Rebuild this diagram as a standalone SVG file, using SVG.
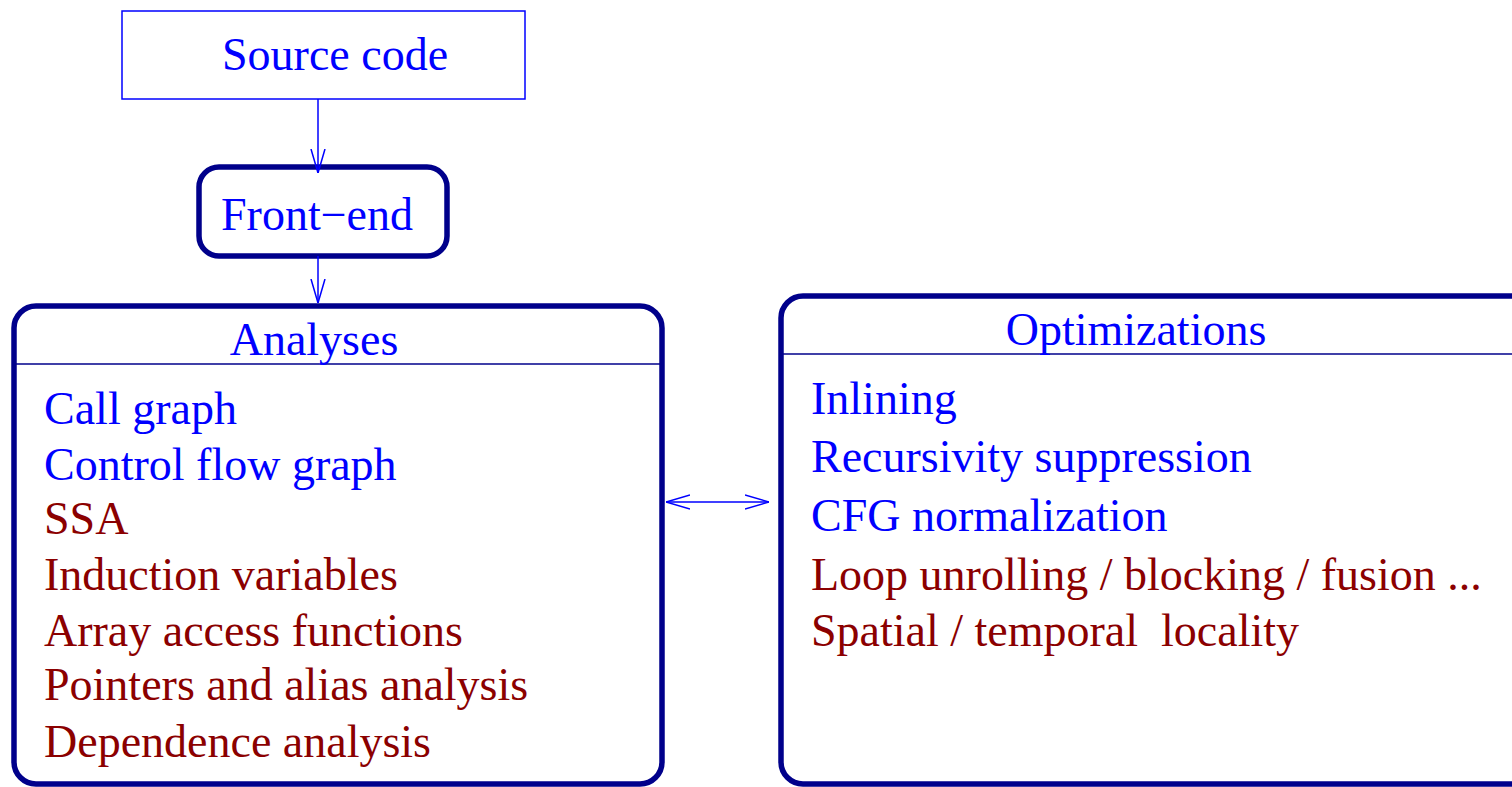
<svg xmlns="http://www.w3.org/2000/svg" width="1512" height="787" viewBox="0 0 1512 787">
  <style>
    .t { font-family: "Liberation Serif", "Times New Roman", serif; font-size: 46px; white-space: pre; }
    .b { fill: #0000ff; }
    .r { fill: #8b0000; }
    .thick { fill: none; stroke: #00008b; stroke-width: 5.5; }
    .thin { fill: none; stroke: #00008b; stroke-width: 1.5; }
    .edge { fill: none; stroke: #0000ff; stroke-width: 1.5; }
  </style>
  <defs>
    <marker id="v" viewBox="0 0 24 20" refX="24" refY="10" markerWidth="24" markerHeight="20" markerUnits="userSpaceOnUse" orient="auto-start-reverse">
      <path d="M0,3 L24,10 L0,17" fill="none" stroke="#0000ff" stroke-width="1.5"/>
    </marker>
  </defs>
  <rect width="1512" height="787" fill="#ffffff"/>

  <g id="source">
    <rect x="122" y="11" width="403" height="88" fill="none" stroke="#0000ff" stroke-width="1.5"/>
    <text class="t b" x="222" y="70">Source code</text>
  </g>

  <g id="frontend">
    <rect class="thick" x="199" y="167" width="248" height="89" rx="20"/>
    <text class="t b" x="221" y="230">Front−end</text>
  </g>

  <g id="analyses">
    <rect class="thick" x="14" y="306" width="648" height="478" rx="22"/>
    <line class="thin" x1="16" y1="364" x2="660" y2="364"/>
    <text class="t b" x="314" y="355" text-anchor="middle">Analyses</text>
    <text class="t b" x="44" y="424">Call graph</text>
    <text class="t b" x="44" y="480">Control flow graph</text>
    <text class="t r" x="44" y="534">SSA</text>
    <text class="t r" x="44" y="590">Induction variables</text>
    <text class="t r" x="44" y="646">Array access functions</text>
    <text class="t r" x="44" y="700">Pointers and alias analysis</text>
    <text class="t r" x="44" y="757">Dependence analysis</text>
  </g>

  <g id="optimizations">
    <rect class="thick" x="781" y="296" width="760" height="488" rx="22"/>
    <line class="thin" x1="783" y1="354" x2="1512" y2="354"/>
    <text class="t b" x="1136" y="345" text-anchor="middle">Optimizations</text>
    <text class="t b" x="811" y="414">Inlining</text>
    <text class="t b" x="811" y="472">Recursivity suppression</text>
    <text class="t b" x="811" y="531">CFG normalization</text>
    <text class="t r" x="811" y="590">Loop unrolling / blocking / fusion ...</text>
    <text class="t r" x="811" y="646">Spatial / temporal  locality</text>
  </g>

  <g id="connectors">
    <line class="edge" x1="318" y1="99" x2="318" y2="173" marker-end="url(#v)"/>
    <line class="edge" x1="318" y1="256" x2="318" y2="303" marker-end="url(#v)"/>
    <line class="edge" x1="666" y1="502" x2="769" y2="502" marker-start="url(#v)" marker-end="url(#v)"/>
  </g>
</svg>
